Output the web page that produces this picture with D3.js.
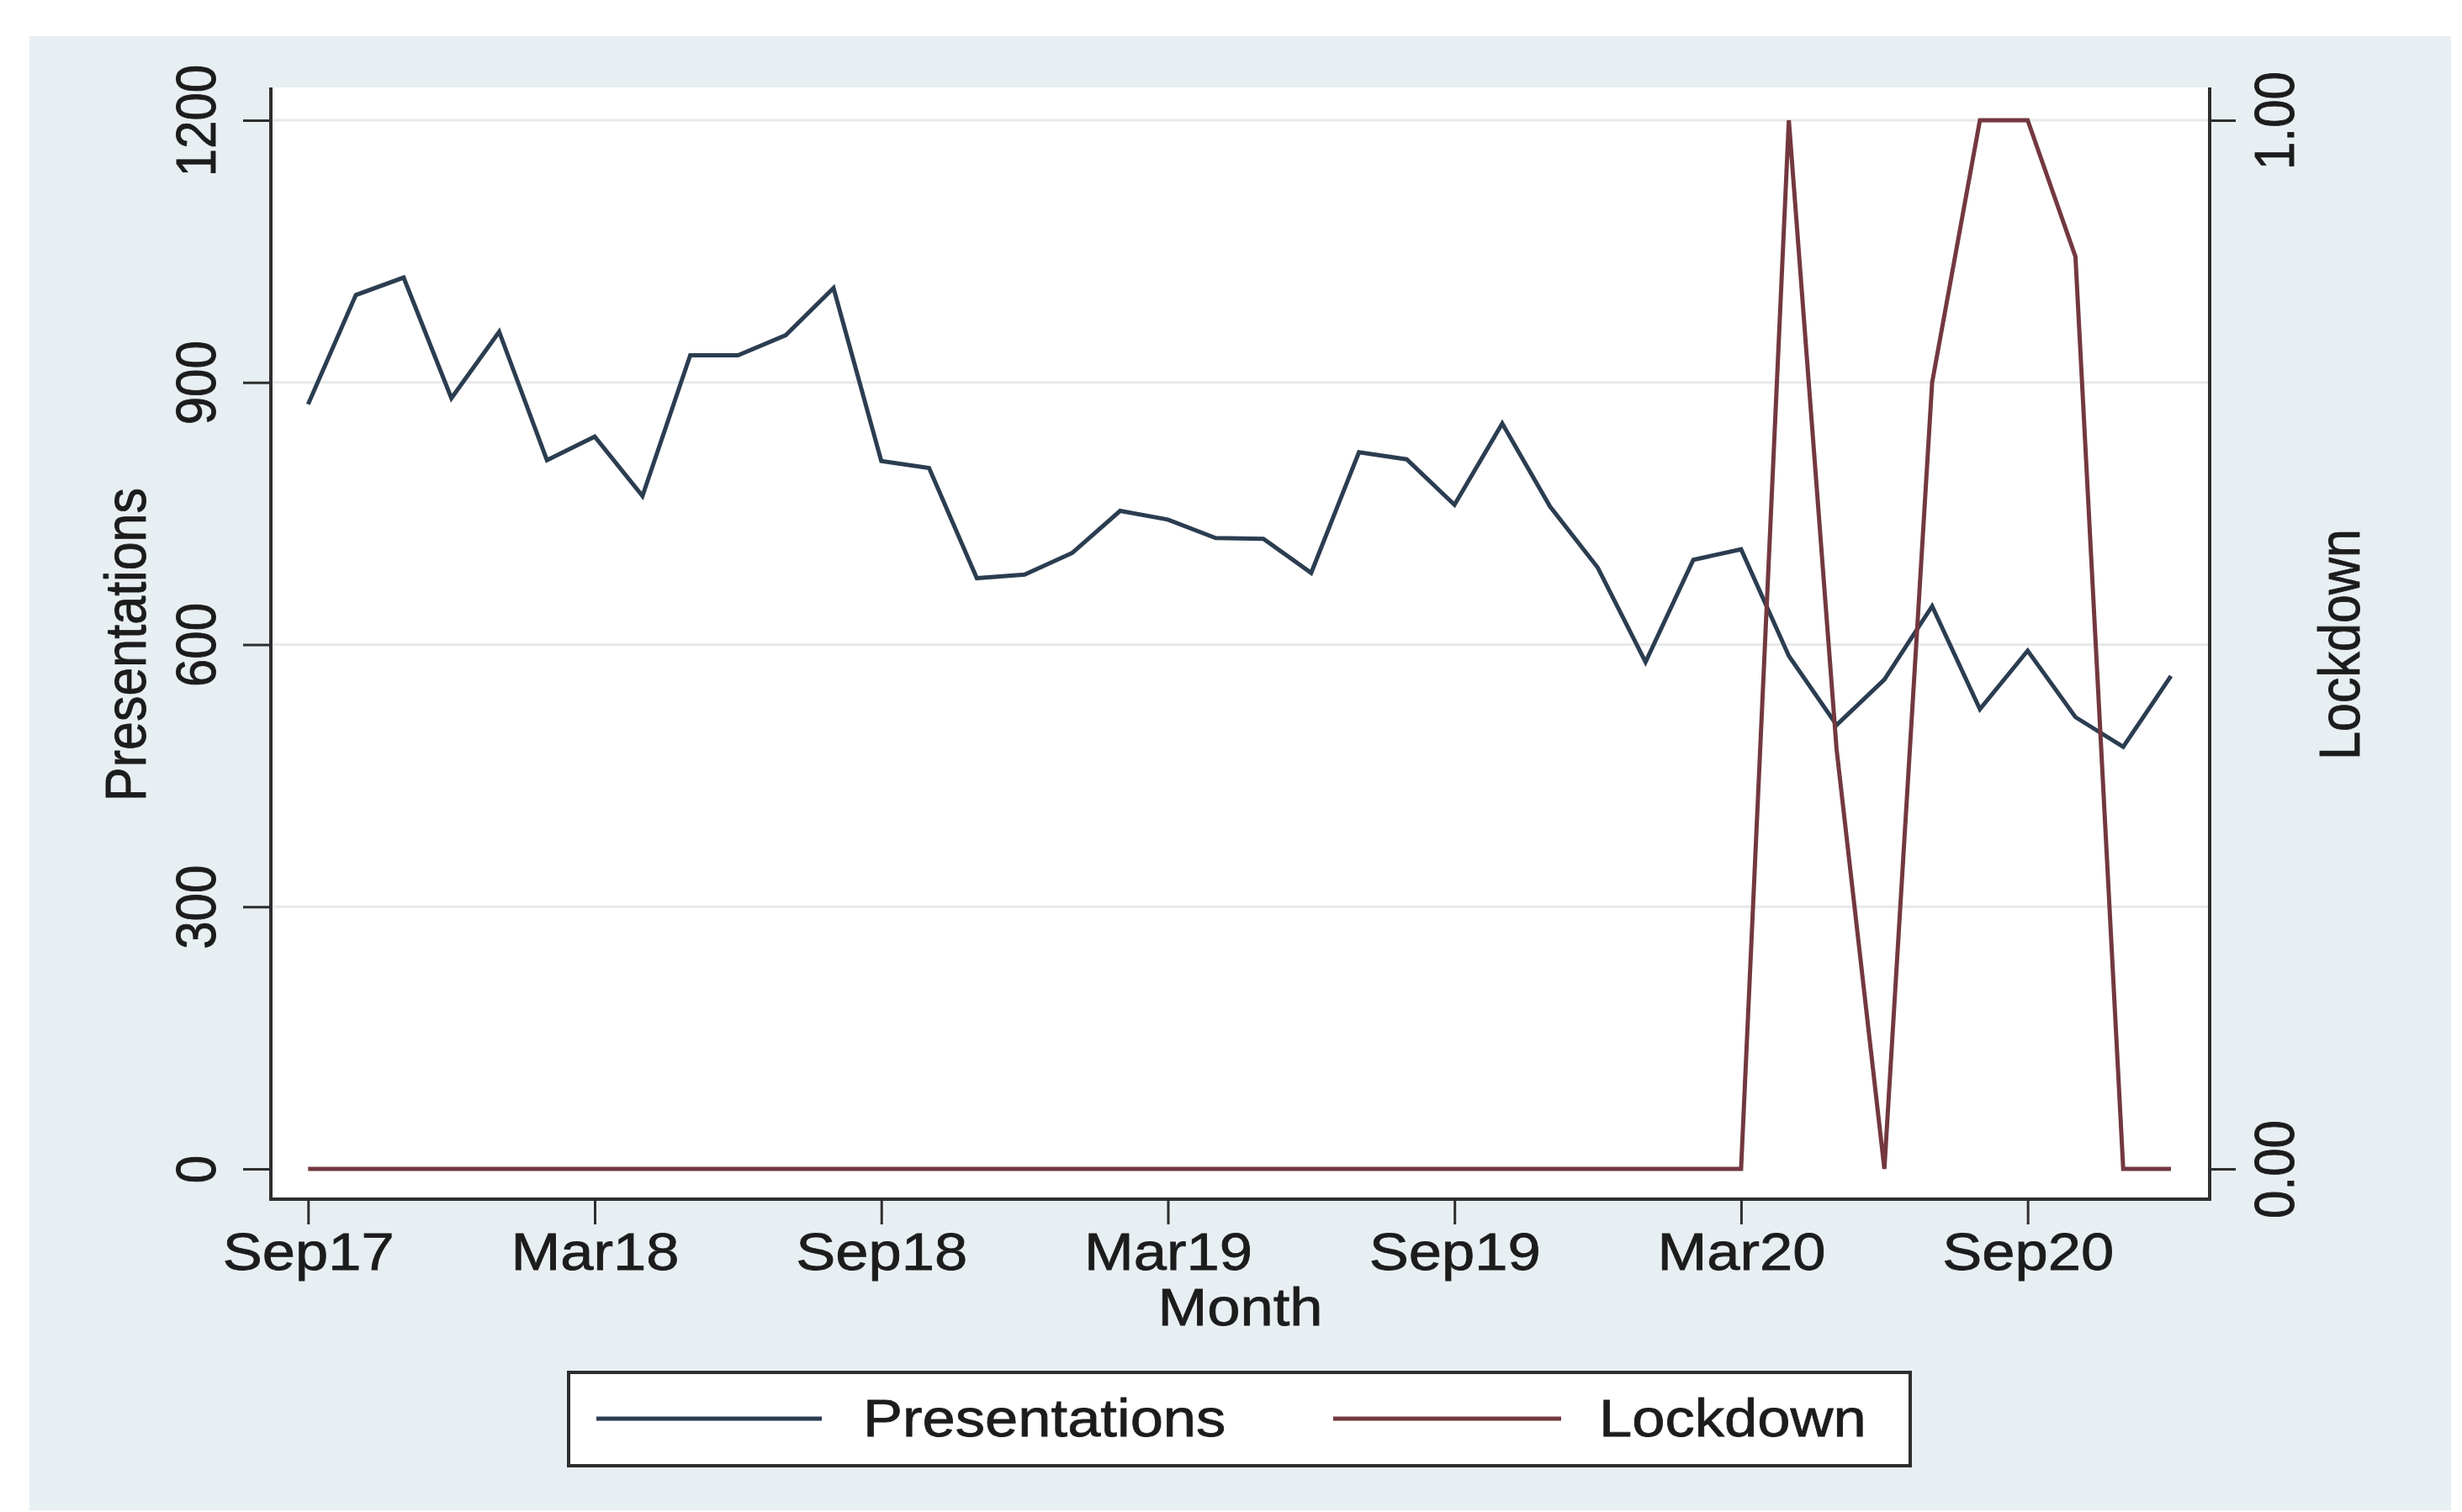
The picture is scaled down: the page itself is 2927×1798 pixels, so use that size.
<!DOCTYPE html>
<html>
<head>
<meta charset="utf-8">
<script src="https://cdn.jsdelivr.net/npm/d3@7"></script>
<style>
  html, body { margin: 0; padding: 0; background: #ffffff; }
  svg { display: block; }
  text { font-family: "Liberation Sans", Arial, sans-serif; fill: #1c1c1c; stroke: #1c1c1c; stroke-width: 0.8px; }
</style>
</head>
<body>
<svg id="chart" width="2927" height="1798"></svg>
<script>
// Monthly series, Sep 2017 to Dec 2020
const months = [
  "Sep17","Oct17","Nov17","Dec17","Jan18","Feb18","Mar18","Apr18","May18","Jun18",
  "Jul18","Aug18","Sep18","Oct18","Nov18","Dec18","Jan19","Feb19","Mar19","Apr19",
  "May19","Jun19","Jul19","Aug19","Sep19","Oct19","Nov19","Dec19","Jan20","Feb20",
  "Mar20","Apr20","May20","Jun20","Jul20","Aug20","Sep20","Oct20","Nov20","Dec20"
];
const presentations = [
  875, 1000, 1020, 882, 958, 811, 838, 770, 931, 931,
  954, 1008, 810, 802, 676, 680, 705, 753, 743, 722,
  721, 682, 820, 812, 760, 853, 758, 688, 580, 697,
  709, 587, 508, 560, 644, 526, 593, 517, 483, 564
];
const lockdown = [
  0, 0, 0, 0, 0, 0, 0, 0, 0, 0,
  0, 0, 0, 0, 0, 0, 0, 0, 0, 0,
  0, 0, 0, 0, 0, 0, 0, 0, 0, 0,
  0, 1, 0.4, 0, 0.75, 1, 1, 0.87, 0, 0
];
const leftTicks = [0, 300, 600, 900, 1200];
const rightTicks = [0, 1];
const rightTickLabels = ["0.00", "1.00"];
const xTickMonths = ["Sep17", "Mar18", "Sep18", "Mar19", "Sep19", "Mar20", "Sep20"];
const seriesNames = ["Presentations", "Lockdown"];

// Layout
const W = 2927, H = 1798;
const region = { left: 35, top: 43, right: 2914, bottom: 1796 };
const plot = { left: 322, right: 2627, top: 104, bottom: 1426 };
const colors = { pres: "#2b3d50", lock: "#73383f", axis: "#2e2e2e", grid: "#e7e9ea", bg: "#e8eff2" };
const stretch = 1.12;   // horizontal glyph stretch
const fsH = 63, fsV = 60;

const svg = d3.select("#chart");

svg.append("rect").attr("width", W).attr("height", H).attr("fill", "#ffffff");
svg.append("rect")
  .attr("x", region.left).attr("y", region.top)
  .attr("width", region.right - region.left).attr("height", region.bottom - region.top)
  .attr("fill", colors.bg);
svg.append("rect")
  .attr("x", plot.left).attr("y", plot.top)
  .attr("width", plot.right - plot.left).attr("height", plot.bottom - plot.top)
  .attr("fill", "#ffffff");

// Scales
const x = d3.scaleLinear().domain([-0.78, months.length - 1 + 0.81]).range([plot.left, plot.right]);
const y = d3.scaleLinear().domain([0, 1200]).range([1390, 143]);
const yR = d3.scaleLinear().domain([0, 1]).range([1390, 143]);

// Gridlines
svg.append("g").selectAll("line")
  .data(leftTicks.filter(v => v > 0))
  .join("line")
  .attr("x1", plot.left).attr("x2", plot.right)
  .attr("y1", d => y(d)).attr("y2", d => y(d))
  .attr("stroke", colors.grid).attr("stroke-width", 3);

// Lines
const linePres = d3.line().x((d, i) => x(i)).y(d => y(d));
const lineLock = d3.line().x((d, i) => x(i)).y(d => yR(d));
svg.append("path").datum(presentations)
  .attr("d", linePres).attr("fill", "none")
  .attr("stroke", colors.pres).attr("stroke-width", 5).attr("stroke-linejoin", "miter");
svg.append("path").datum(lockdown)
  .attr("d", lineLock).attr("fill", "none")
  .attr("stroke", colors.lock).attr("stroke-width", 5).attr("stroke-linejoin", "miter");

// Frame lines (left, bottom, right)
const frame = svg.append("g").attr("stroke", colors.axis).attr("stroke-width", 4);
frame.append("line").attr("x1", plot.left).attr("x2", plot.left).attr("y1", plot.top).attr("y2", plot.bottom + 2);
frame.append("line").attr("x1", plot.left).attr("x2", plot.right).attr("y1", plot.bottom).attr("y2", plot.bottom);
frame.append("line").attr("x1", plot.right).attr("x2", plot.right).attr("y1", plot.top).attr("y2", plot.bottom + 2);

// Left axis
const gL = svg.append("g").attr("transform", `translate(${plot.left},0)`)
  .call(d3.axisLeft(y).tickValues(leftTicks).tickSize(33).tickFormat(d3.format("d")));
gL.select(".domain").remove();
gL.selectAll(".tick line").attr("stroke", colors.axis).attr("stroke-width", 3);
gL.selectAll(".tick text")
  .attr("x", null).attr("dy", null).attr("y", null)
  .attr("transform", `translate(${256 - plot.left},0) scale(${stretch},1) rotate(-90)`)
  .attr("text-anchor", "middle").attr("font-size", fsV).attr("fill", "#1c1c1c");

// Right axis
const gR = svg.append("g").attr("transform", `translate(${plot.right},0)`)
  .call(d3.axisRight(yR).tickValues(rightTicks).tickSize(31).tickFormat((d, i) => rightTickLabels[i]));
gR.select(".domain").remove();
gR.selectAll(".tick line").attr("stroke", colors.axis).attr("stroke-width", 3);
gR.selectAll(".tick text")
  .attr("x", null).attr("dy", null).attr("y", null)
  .attr("transform", `translate(${2727 - plot.right},0) scale(${stretch},1) rotate(-90)`)
  .attr("text-anchor", "middle").attr("font-size", fsV).attr("fill", "#1c1c1c");

// Bottom axis
const xTickIdx = xTickMonths.map(m => months.indexOf(m));
const gB = svg.append("g").attr("transform", `translate(0,${plot.bottom})`)
  .call(d3.axisBottom(x).tickValues(xTickIdx).tickSize(30).tickFormat(i => months[i]));
gB.select(".domain").remove();
gB.selectAll(".tick line").attr("stroke", colors.axis).attr("stroke-width", 3);
gB.selectAll(".tick text")
  .attr("y", null).attr("dy", null)
  .attr("transform", `translate(0,${1510 - plot.bottom}) scale(${stretch},1)`)
  .attr("text-anchor", "middle").attr("font-size", fsH).attr("fill", "#1c1c1c");

// Axis titles
svg.append("text").text("Month")
  .attr("transform", `translate(${(plot.left + plot.right) / 2},1576) scale(${stretch},1)`)
  .attr("text-anchor", "middle").attr("font-size", fsH);
svg.append("text").text("Presentations")
  .attr("transform", `translate(173,${(y(0) + y(1200)) / 2}) scale(${stretch},1) rotate(-90)`)
  .attr("text-anchor", "middle").attr("font-size", 61);
svg.append("text").text("Lockdown")
  .attr("transform", `translate(2805,${(yR(0) + yR(1)) / 2}) scale(${stretch},1) rotate(-90)`)
  .attr("text-anchor", "middle").attr("font-size", 61);

// Legend
const legend = svg.append("g");
legend.append("rect")
  .attr("x", 676).attr("y", 1632).attr("width", 2271 - 676).attr("height", 1743 - 1632)
  .attr("fill", "#ffffff").attr("stroke", colors.axis).attr("stroke-width", 4);
const legendItems = [
  { name: seriesNames[0], color: colors.pres, x1: 709, x2: 977, tx: 1026 },
  { name: seriesNames[1], color: colors.lock, x1: 1585, x2: 1856, tx: 1901 }
];
legendItems.forEach(it => {
  legend.append("line").attr("x1", it.x1).attr("x2", it.x2).attr("y1", 1687).attr("y2", 1687)
    .attr("stroke", it.color).attr("stroke-width", 5);
  legend.append("text").text(it.name)
    .attr("transform", `translate(${it.tx},1708) scale(${stretch},1)`)
    .attr("font-size", fsH);
});
</script>
</body>
</html>
